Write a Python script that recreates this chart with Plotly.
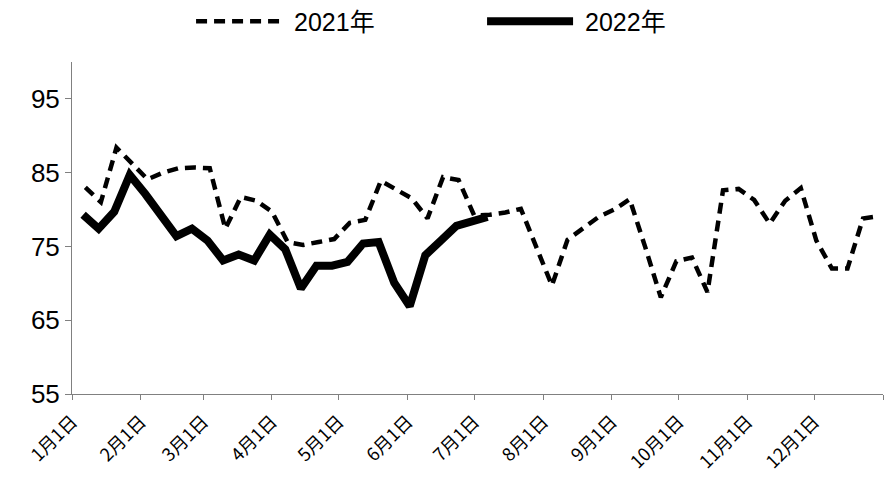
import pandas as pd
import plotly.graph_objects as go

# 2021 weekly values (starting 2021-01-07)
start_2021 = "2021-01-07"
values_2021 = [83.0, 81.0, 88.4, 86.3, 84.1, 85.0, 85.6, 85.7, 85.6, 77.4,
               81.7, 81.2, 79.7, 75.6, 75.2, 75.6, 76.0, 78.2, 78.6, 83.9,
               82.7, 81.5, 78.8, 84.4, 84.0, 79.2, 79.3, 79.6, 80.1, 75.0,
               69.7, 75.9, 77.5, 79.0, 80.0, 81.4, 74.9, 68.1, 73.0, 73.5,
               68.8, 82.6, 82.8, 81.3, 78.1, 81.2, 82.9, 75.8, 72.0, 72.0,
               78.8, 79.1]

# 2022 weekly values (starting 2022-01-06)
start_2022 = "2022-01-06"
values_2022 = [79.3, 77.4, 79.7, 84.7, 82.1, 79.3, 76.4, 77.4, 75.8, 73.1,
               73.9, 73.1, 76.6, 74.6, 69.3, 72.4, 72.4, 72.9, 75.4, 75.6,
               70.1, 66.9, 73.8, 75.8, 77.8, 78.4, 79.0]

series_names = ["2021年", "2022年"]
month_ticks = ["2021-%02d-01" % m for m in range(1, 13)] + ["2022-01-01"]
month_labels = ["%d月1日" % m for m in range(1, 13)] + [""]
y_ticks = [55, 65, 75, 85, 95]

dates_2021 = pd.date_range(start_2021, periods=len(values_2021), freq="7D")
dates_2022 = pd.date_range(start_2022, periods=len(values_2022), freq="7D")
# place 2022 on the same month/day axis
x_2022 = dates_2022 - pd.DateOffset(years=1)

fig = go.Figure()
fig.add_trace(go.Scatter(
    x=dates_2021, y=values_2021, mode="lines", name="\u00a0" + series_names[0],
    line=dict(color="black", width=4.5, dash="11px,7px"),
))
fig.add_trace(go.Scatter(
    x=x_2022, y=values_2022, mode="lines", name="\u00a0" + series_names[1],
    line=dict(color="black", width=8),
))

fig.update_layout(
    width=893, height=482,
    margin=dict(l=64, r=18, t=54, b=96),
    paper_bgcolor="white", plot_bgcolor="white",
    font=dict(family="Liberation Sans, Noto Sans CJK SC, sans-serif", color="black"),
    showlegend=True,
    legend=dict(
        orientation="h", x=0.205, xanchor="left", xref="container",
        y=0.972, yanchor="middle", yref="container",
        font=dict(size=25, family="Liberation Sans, Noto Sans CJK SC"),
        itemwidth=86, entrywidth=190, traceorder="normal",
        bgcolor="rgba(0,0,0,0)",
    ),
    xaxis=dict(
        type="date", range=["2021-01-01", "2022-01-01"],
        tickmode="array", tickvals=month_ticks, ticktext=month_labels,
        tickangle=-45, ticks="outside", ticklen=5, tickcolor="#808080",
        showline=True, linecolor="#808080", linewidth=1,
        showgrid=False, zeroline=False, ticklabelstandoff=4,
        tickfont=dict(size=18, family="Noto Sans CJK SC, Liberation Sans"),
    ),
    yaxis=dict(
        range=[55, 100], tickmode="array", tickvals=y_ticks,
        ticks="outside", ticklen=6, tickcolor="#808080",
        showline=True, linecolor="#808080", linewidth=1,
        showgrid=False, zeroline=False,
        tickfont=dict(size=26, family="Liberation Sans"),
    ),
)

fig.write_html("out.html")
